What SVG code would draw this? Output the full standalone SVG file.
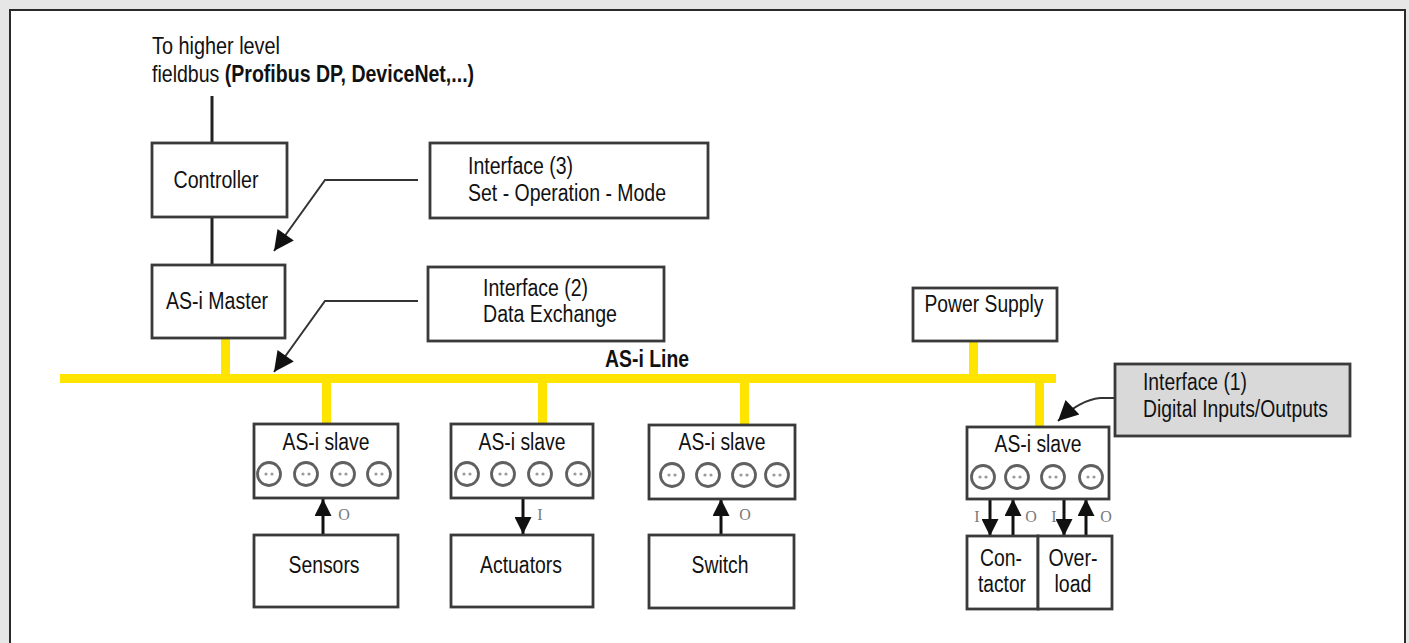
<svg xmlns="http://www.w3.org/2000/svg" width="1409" height="643" viewBox="0 0 1409 643">
<style>
.box{fill:#fff;stroke:#3a3a3a;stroke-width:2.8}
.gbox{fill:#d9d9d9;stroke:#3a3a3a;stroke-width:2.8}
.t{font-family:"Liberation Sans",Arial,sans-serif;font-size:23px;fill:#111}
.b{font-weight:bold}
.io{font-family:"Liberation Serif","Times New Roman",serif;font-size:16px;fill:#7a7a7a}
.wire{stroke:#222;stroke-width:3;fill:none}
.lead{stroke:#333;stroke-width:2;fill:none}
.io-arrow{stroke:#111;stroke-width:3;fill:none}
.bus{fill:#FFE400}
.port{fill:#fff;stroke:#606060;stroke-width:2.8}
.dot{fill:#9a9a9a}
</style>
<defs>
<marker id="bigHead" viewBox="0 0 10 10" refX="10" refY="5" markerUnits="userSpaceOnUse" markerWidth="26" markerHeight="20" orient="auto">
<path d="M0,0 L10,5 L0,10 z" fill="#111"/>
</marker>
<marker id="ioHead" viewBox="0 0 10 10" refX="10" refY="5" markerUnits="userSpaceOnUse" markerWidth="18" markerHeight="17" orient="auto">
<path d="M0,0 L10,5 L0,10 z" fill="#111"/>
</marker>
<g id="portset">
<circle class="port" cx="0" cy="0" r="11.5"/>
<circle class="dot" cx="-3" cy="0" r="1.6"/>
<circle class="dot" cx="3" cy="0" r="1.6"/>
</g>
</defs>

<rect x="0" y="0" width="1409" height="643" fill="#e6e6e6"/>
<rect x="10" y="10" width="1395" height="660" fill="#fff" stroke="#2a2a2a" stroke-width="2"/>

<g id="title">
<text class="t" x="152" y="54" textLength="128" lengthAdjust="spacingAndGlyphs">To higher level</text>
<g transform="translate(152,82) scale(0.85,1)">
<text class="t" x="0" y="0">fieldbus <tspan class="b">(Profibus DP, DeviceNet,...)</tspan></text>
</g>
</g>

<g id="connectors">
<line class="wire" x1="212" y1="96" x2="212" y2="143"/>
<line class="wire" x1="212" y1="217" x2="212" y2="265"/>
<polyline class="lead" points="418,180 325,180 274,251" marker-end="url(#bigHead)"/>
<polyline class="lead" points="418,301 325,301 274,372" marker-end="url(#bigHead)"/>
<path class="lead" d="M1115,398 L1100,398 Q1080,400 1058,421" marker-end="url(#bigHead)"/>
<rect class="bus" x="60" y="374" width="996" height="9"/>
<rect class="bus" x="221" y="338" width="9" height="40"/>
<rect class="bus" x="969" y="341" width="9" height="37"/>
<rect class="bus" x="322" y="380" width="9" height="44"/>
<rect class="bus" x="538" y="380" width="9" height="44"/>
<rect class="bus" x="740" y="380" width="9" height="45"/>
<rect class="bus" x="1035" y="380" width="9" height="47"/>
<line class="io-arrow" x1="323" y1="535" x2="323" y2="499" marker-end="url(#ioHead)"/>
<line class="io-arrow" x1="523" y1="498" x2="523" y2="534" marker-end="url(#ioHead)"/>
<line class="io-arrow" x1="721" y1="535" x2="721" y2="499" marker-end="url(#ioHead)"/>
<line class="io-arrow" x1="990" y1="499" x2="990" y2="536" marker-end="url(#ioHead)"/>
<line class="io-arrow" x1="1013" y1="536" x2="1013" y2="499" marker-end="url(#ioHead)"/>
<line class="io-arrow" x1="1064" y1="499" x2="1064" y2="536" marker-end="url(#ioHead)"/>
<line class="io-arrow" x1="1086" y1="536" x2="1086" y2="499" marker-end="url(#ioHead)"/>
<text class="io" x="344" y="520" text-anchor="middle">O</text>
<text class="io" x="540" y="520" text-anchor="middle">I</text>
<text class="io" x="745" y="520" text-anchor="middle">O</text>
<text class="io" x="977" y="522" text-anchor="middle">I</text>
<text class="io" x="1031" y="522" text-anchor="middle">O</text>
<text class="io" x="1054" y="522" text-anchor="middle">I</text>
<text class="io" x="1106" y="522" text-anchor="middle">O</text>
<text class="t b" x="605" y="367" textLength="84" lengthAdjust="spacingAndGlyphs">AS-i Line</text>
</g>

<g id="controller">
<rect class="box" x="152" y="143" width="135" height="74"/>
<text class="t" x="216" y="188" text-anchor="middle" textLength="85" lengthAdjust="spacingAndGlyphs">Controller</text>
</g>

<g id="master">
<rect class="box" x="152" y="265" width="133" height="73"/>
<text class="t" x="217" y="309" text-anchor="middle" textLength="102" lengthAdjust="spacingAndGlyphs">AS-i Master</text>
</g>

<g id="interface3">
<rect class="box" x="430" y="143" width="278" height="75"/>
<text class="t" x="468" y="174" textLength="105" lengthAdjust="spacingAndGlyphs">Interface (3)</text>
<text class="t" x="468" y="201" textLength="198" lengthAdjust="spacingAndGlyphs">Set - Operation - Mode</text>
</g>

<g id="interface2">
<rect class="box" x="428" y="267" width="236" height="74"/>
<text class="t" x="483" y="296" textLength="105" lengthAdjust="spacingAndGlyphs">Interface (2)</text>
<text class="t" x="483" y="322" textLength="134" lengthAdjust="spacingAndGlyphs">Data Exchange</text>
</g>

<g id="powersupply">
<rect class="box" x="913" y="288" width="144" height="53"/>
<text class="t" x="984" y="312" text-anchor="middle" textLength="119" lengthAdjust="spacingAndGlyphs">Power Supply</text>
</g>

<g id="interface1">
<rect class="gbox" x="1115" y="364" width="235" height="72"/>
<text class="t" x="1143" y="390" textLength="104" lengthAdjust="spacingAndGlyphs">Interface (1)</text>
<text class="t" x="1143" y="417" textLength="185" lengthAdjust="spacingAndGlyphs">Digital Inputs/Outputs</text>
</g>

<g id="slave1">
<rect class="box" x="254" y="424" width="144" height="74"/>
<text class="t" x="326" y="450" text-anchor="middle" textLength="87" lengthAdjust="spacingAndGlyphs">AS-i slave</text>
<use href="#portset" x="269" y="474"/><use href="#portset" x="306" y="474"/><use href="#portset" x="343" y="474"/><use href="#portset" x="379" y="474"/>
</g>

<g id="slave2">
<rect class="box" x="451" y="424" width="142" height="74"/>
<text class="t" x="522" y="450" text-anchor="middle" textLength="87" lengthAdjust="spacingAndGlyphs">AS-i slave</text>
<use href="#portset" x="467" y="474"/><use href="#portset" x="503" y="474"/><use href="#portset" x="540" y="474"/><use href="#portset" x="578" y="474"/>
</g>

<g id="slave3">
<rect class="box" x="649" y="425" width="146" height="74"/>
<text class="t" x="722" y="450" text-anchor="middle" textLength="87" lengthAdjust="spacingAndGlyphs">AS-i slave</text>
<use href="#portset" x="672" y="475"/><use href="#portset" x="708" y="475"/><use href="#portset" x="744" y="475"/><use href="#portset" x="777" y="475"/>
</g>

<g id="slave4">
<rect class="box" x="967" y="427" width="142" height="72"/>
<text class="t" x="1038" y="452" text-anchor="middle" textLength="87" lengthAdjust="spacingAndGlyphs">AS-i slave</text>
<use href="#portset" x="983" y="477"/><use href="#portset" x="1017" y="477"/><use href="#portset" x="1053" y="477"/><use href="#portset" x="1091" y="477"/>
</g>

<g id="sensors">
<rect class="box" x="254" y="535" width="144" height="72"/>
<text class="t" x="324" y="573" text-anchor="middle" textLength="71" lengthAdjust="spacingAndGlyphs">Sensors</text>
</g>

<g id="actuators">
<rect class="box" x="451" y="535" width="142" height="72"/>
<text class="t" x="521" y="573" text-anchor="middle" textLength="82" lengthAdjust="spacingAndGlyphs">Actuators</text>
</g>

<g id="switch">
<rect class="box" x="649" y="535" width="145" height="73"/>
<text class="t" x="720" y="573" text-anchor="middle" textLength="57" lengthAdjust="spacingAndGlyphs">Switch</text>
</g>

<g id="contactor">
<rect class="box" x="967" y="536" width="71" height="73"/>
<text class="t" x="1001" y="566" text-anchor="middle" textLength="42" lengthAdjust="spacingAndGlyphs">Con-</text>
<text class="t" x="1002" y="592" text-anchor="middle" textLength="48" lengthAdjust="spacingAndGlyphs">tactor</text>
</g>

<g id="overload">
<rect class="box" x="1038" y="536" width="74" height="73"/>
<text class="t" x="1073" y="566" text-anchor="middle" textLength="49" lengthAdjust="spacingAndGlyphs">Over-</text>
<text class="t" x="1073" y="592" text-anchor="middle" textLength="37" lengthAdjust="spacingAndGlyphs">load</text>
</g>
</svg>
